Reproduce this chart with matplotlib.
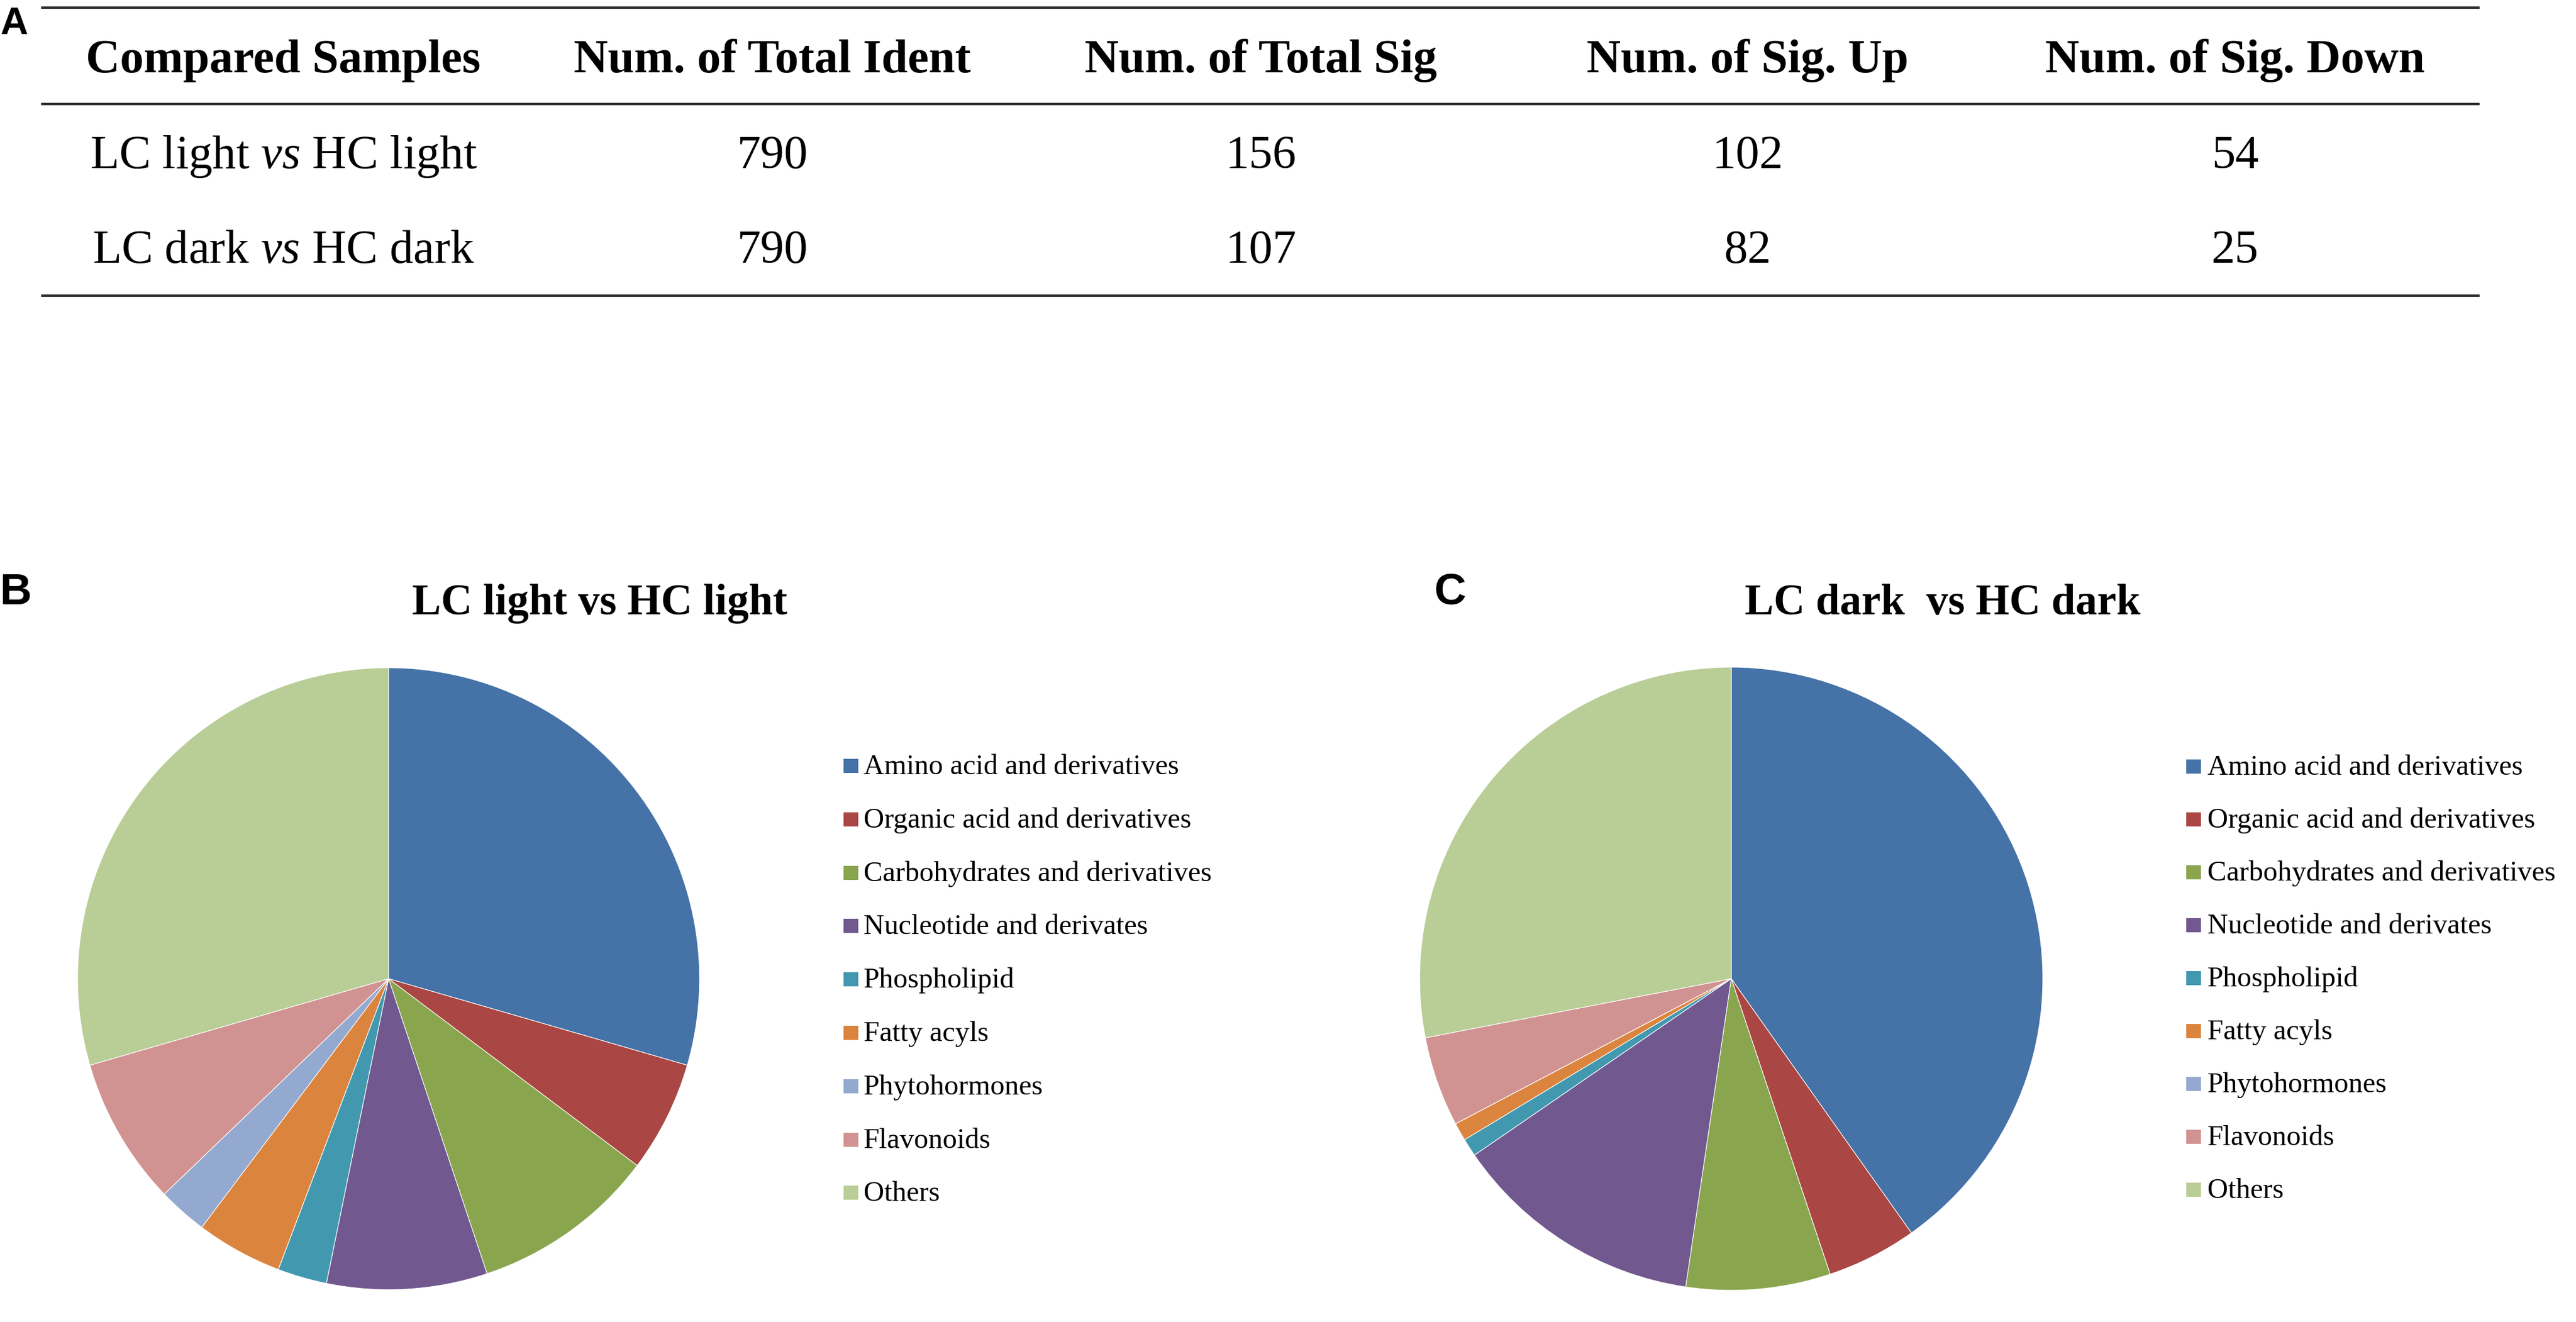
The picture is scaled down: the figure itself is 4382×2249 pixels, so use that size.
import matplotlib.pyplot as plt
from matplotlib.patches import Rectangle

W, H = 4382, 2249
DPI = 100

plt.rcParams['font.family'] = ['Liberation Serif', 'DejaVu Serif']
plt.rcParams['mathtext.fontset'] = 'custom'
plt.rcParams['mathtext.rm'] = 'Liberation Serif'
plt.rcParams['mathtext.it'] = 'Liberation Serif:italic'

# table (panel A)
col_headers = ['Compared Samples', 'Num. of Total Ident', 'Num. of Total Sig',
               'Num. of Sig. Up', 'Num. of Sig. Down']
row_names = [r'LC light $\mathit{vs}$ HC light', r'LC dark $\mathit{vs}$ HC dark']
total_ident = [790, 790]
total_sig = [156, 107]
sig_up = [102, 82]
sig_down = [54, 25]

# pies (panels B, C)
categories = ['Amino acid and derivatives', 'Organic acid and derivatives',
              'Carbohydrates and derivatives', 'Nucleotide and derivates',
              'Phospholipid', 'Fatty acyls', 'Phytohormones', 'Flavonoids', 'Others']
light_counts = [46, 9, 15, 13, 4, 7, 4, 12, 46]
dark_counts = [43, 5, 8, 14, 1, 1, 0, 5, 30]
colors = ['#4572A7', '#AA4643', '#89A54E', '#71588F', '#4198AF',
          '#DB843D', '#93A9CF', '#D19392', '#B9CD96']

fig = plt.figure(figsize=(W / DPI, H / DPI), dpi=DPI)

# background axes in pixel coordinates for table, labels and legends
bg = fig.add_axes([0, 0, 1, 1])
bg.set_xlim(0, W)
bg.set_ylim(H, 0)
bg.axis('off')

# table rules
for y in [13, 177, 503]:
    bg.plot([70, 4218], [y, y], color='#333333', lw=3.0, solid_capstyle='butt')

col_x = [482, 1314, 2145, 2973, 3802]
for x, txt in zip(col_x, col_headers):
    bg.text(x, 123, txt, ha='center', va='baseline', fontsize=58, fontweight='bold')

row_base = [286, 447]
for i, yb in enumerate(row_base):
    vals = [row_names[i], total_ident[i], total_sig[i], sig_up[i], sig_down[i]]
    for x, v in zip(col_x, vals):
        bg.text(x, yb, str(v), ha='center', va='baseline', fontsize=58)

# panel letters
bg.text(0, 58, 'A', ha='left', va='baseline', fontsize=47, fontweight='bold',
        family='Liberation Sans')
bg.text(0, 1028, 'B', ha='left', va='baseline', fontsize=54, fontweight='bold',
        family='Liberation Sans')
bg.text(2440, 1028, 'C', ha='left', va='baseline', fontsize=54, fontweight='bold',
        family='Liberation Sans')

# pie titles
bg.text(1020, 1045, 'LC light vs HC light', ha='center', va='baseline',
        fontsize=53, fontweight='bold')
bg.text(3305, 1045, 'LC dark  vs HC dark', ha='center', va='baseline',
        fontsize=53, fontweight='bold')


def draw_pie(cx, cy, r, counts):
    ax = fig.add_axes([(cx - r) / W, (H - cy - r) / H, 2 * r / W, 2 * r / H])
    ax.pie(counts, colors=colors, startangle=90, counterclock=False, radius=1,
           wedgeprops=dict(edgecolor='white', linewidth=0.8))
    ax.set_xlim(-1, 1)
    ax.set_ylim(-1, 1)
    ax.set_aspect('auto')
    ax.axis('off')


draw_pie(661, 1665, 529, light_counts)
draw_pie(2945, 1665, 530, dark_counts)


def draw_legend(mx, tx, y0, step):
    for i, (lab, c) in enumerate(zip(categories, colors)):
        yb = y0 + i * step
        bg.add_patch(Rectangle((mx, yb - 26), 25, 24, facecolor=c, edgecolor='none'))
        bg.text(tx, yb, lab, ha='left', va='baseline', fontsize=35)


draw_legend(1435, 1469, 1317, 90.8)
draw_legend(3719, 3755, 1318, 90.0)

fig.savefig('out.png', dpi=DPI)
